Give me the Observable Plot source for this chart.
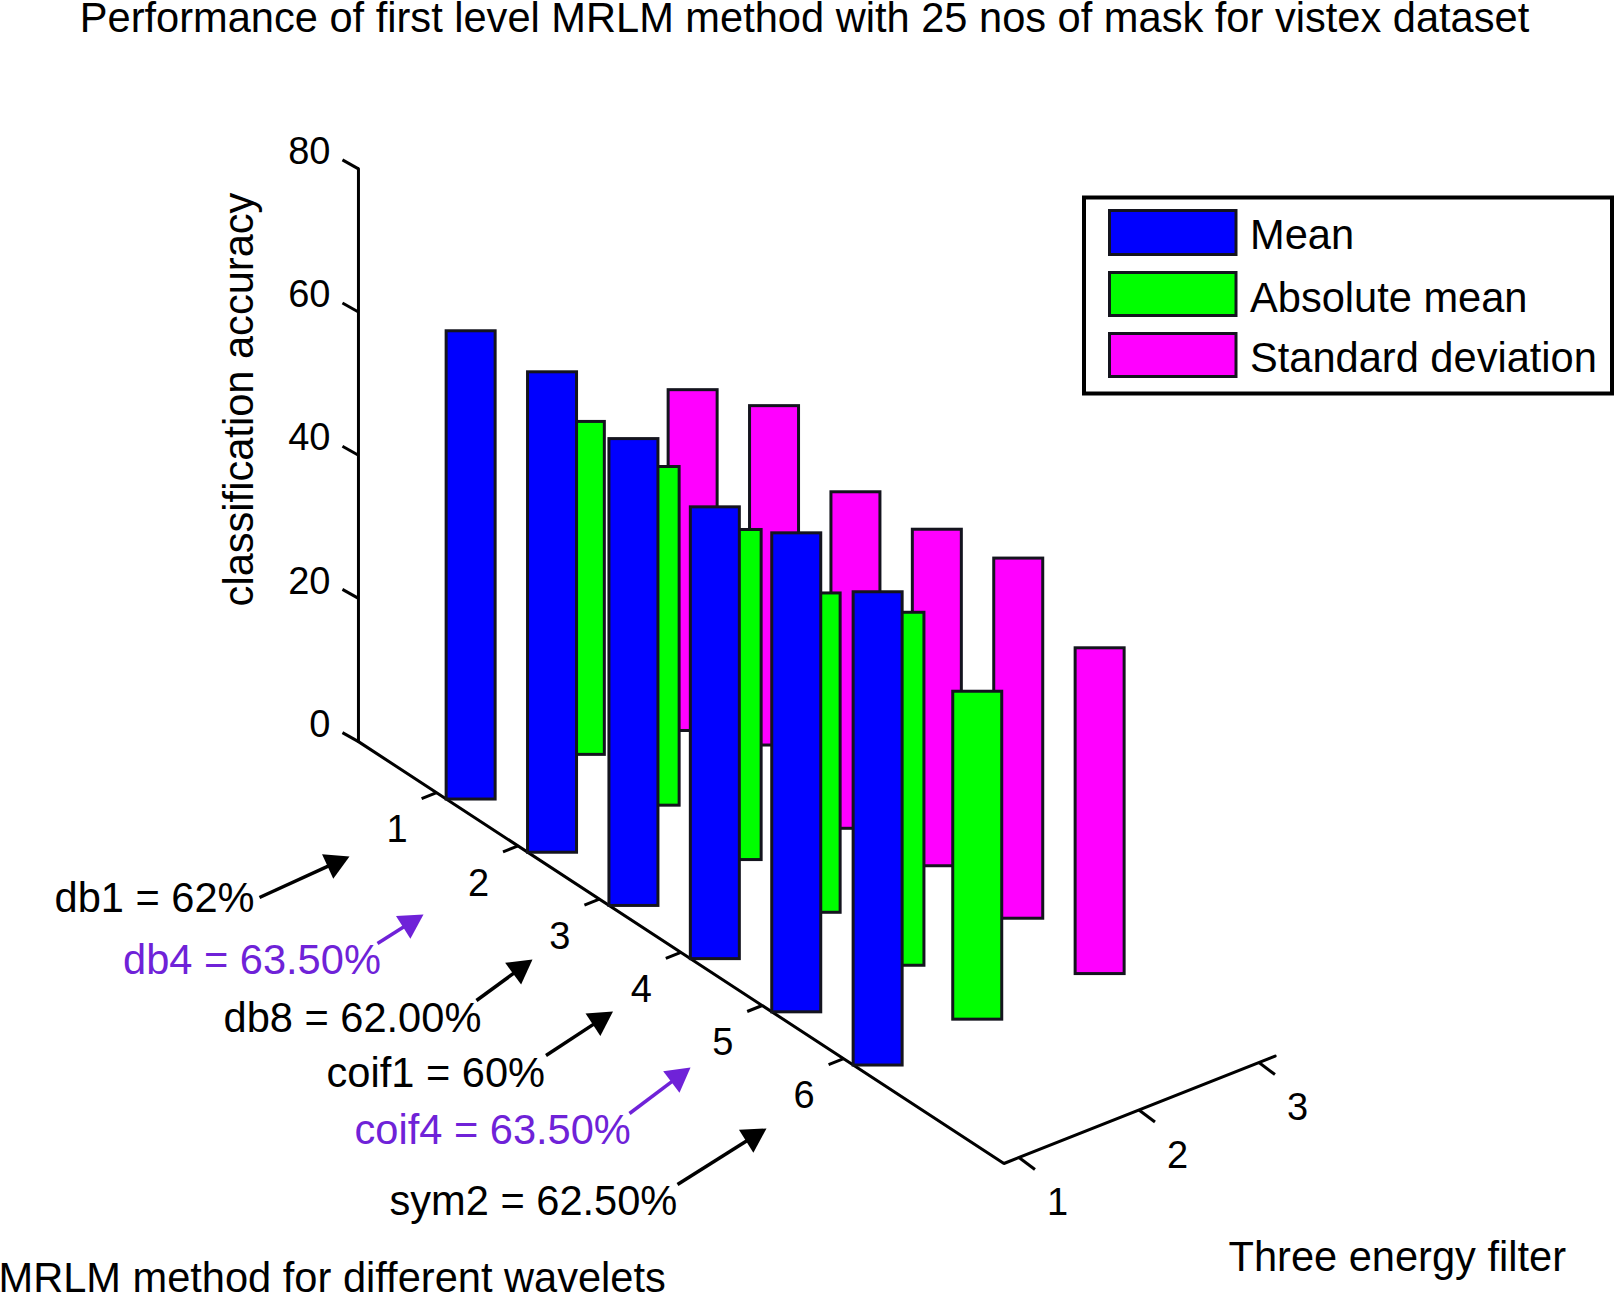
<!DOCTYPE html>
<html>
<head>
<meta charset="utf-8">
<script src="https://cdn.jsdelivr.net/npm/d3@7"></script>
<script src="https://cdn.jsdelivr.net/npm/@observablehq/plot@0.6"></script>
<style>
html,body{margin:0;padding:0;background:#fff;overflow:hidden}
svg{display:block}
g[aria-label="legend-labels"] text{word-spacing:6px}
</style>
</head>
<body>
<div id="chart"></div>
<script>
// ---- data (axis units) ----
const wavelets = [1, 2, 3, 4, 5, 6];
const filterTicks = [1, 2, 3];
const accuracyTicks = [0, 20, 40, 60, 80];

const meanHigh = [65.4, 67.1, 65.2, 63.1, 66.9, 66.1];
const meanLow = [0, 0, 0, 0, 0, 0];
const meanFilter = [1, 1, 1, 1, 1, 1];

const absHigh = [46.7, 48.2, 46.8, 45.5, 50.1, 46.7];
const absLow = [0.2, 0.9, 0.7, 0.9, 0.8, 0.9];
const absFilter = [1.91, 1.855, 1.86, 1.84, 1.86, 1.83];

const stdHigh = [44.9, 50.1, 45.5, 47.7, 51.1, 46];
const stdLow = [-2.7, 2.7, -1.5, 0.7, 0.8, 0.5];
const stdFilter = [2.85, 2.85, 2.85, 2.85, 2.85, 2.85];

const seriesNames = ["Mean", "Absolute mean", "Standard deviation"];
const seriesColors = ["#0000ff", "#00ff00", "#ff00ff"];

const titleText = "Performance of first level MRLM method with 25 nos of mask for vistex dataset";
const zTitle = "classification accuracy";
const xTitle = "MRLM method for different wavelets";
const yTitle = "Three energy filter";

const noteLabels = ["db1 = 62%", "db4 = 63.50%", "db8 = 62.00%", "coif1 = 60%", "coif4 = 63.50%", "sym2 = 62.50%"];
const noteColors = ["#000", "#6f22d8", "#000", "#000", "#6f22d8", "#000"];

// ---- layout ----
const W = 1614, H = 1293;
const px = (w, f) => 354.7 + 81.4 * w + 120 * (f - 0.875);
const py = (w, f, z) => 739 + 53.2 * w - 47.5 * (f - 0.875) - 7.16 * z;
const barShift = 0.24, barHalf = 24.5;
const wMin = 0.04, wMax = 7.97, fMin = 0.875, fMax = 3.135, zMax = 80;
const ink = "#000", barInk = "#14141e";
const font = "Liberation Sans, Arial, Helvetica, sans-serif";

const bars = (high, low, filter, color) => wavelets.map((w, i) => ({
  x1: px(w + barShift, filter[i]) - barHalf,
  x2: px(w + barShift, filter[i]) + barHalf,
  y1: py(w + barShift, filter[i], low[i]),
  y2: py(w + barShift, filter[i], high[i]),
  color
}));
const allBars = [
  ...bars(stdHigh, stdLow, stdFilter, seriesColors[2]),
  ...bars(absHigh, absLow, absFilter, seriesColors[1]),
  ...bars(meanHigh, meanLow, meanFilter, seriesColors[0])
];

// axes of the 3D box
const axisPaths = [
  [[px(wMin, fMin), py(wMin, fMin, zMax)], [px(wMin, fMin), py(wMin, fMin, 0)], [px(wMax, fMin), py(wMax, fMin, 0)], [px(wMax, fMax), py(wMax, fMax, 0)]]
].flatMap((p, id) => p.map(([x, y]) => ({x, y, id})));

const ticks = [
  ...accuracyTicks.map(z => { const x = px(wMin, fMin), y = py(wMin, fMin, z); return {x1: x, y1: y, x2: x - 16, y2: y - 9}; }),
  ...wavelets.map(w => { const x = px(w, fMin), y = py(w, fMin, 0); return {x1: x, y1: y, x2: x - 15, y2: y + 6}; }),
  ...filterTicks.map(f => { const x = px(wMax, f), y = py(wMax, f, 0); return {x1: x, y1: y, x2: x + 16, y2: y + 12}; })
];

const zTickLabels = accuracyTicks.map(z => ({x: px(wMin, fMin) - 28, y: py(wMin, fMin, z) - 17, text: String(z)}));
const floorTickLabels = [
  ...wavelets.map(w => ({x: px(w, fMin) - 39.5, y: py(w, fMin, 0) + 37.5, text: String(w)})),
  ...filterTicks.map(f => ({x: px(wMax, f) + 38.5, y: py(wMax, f, 0) + 45.5, text: String(f)}))
];

// annotations: placement of text and arrows on the page
const noteLeft = [54, 122.5, 223, 326, 354, 389];
const noteBase = [911, 973, 1031, 1086, 1143, 1214];
const arrowStart = [[259, 897], [377, 943], [476, 1000], [545.5, 1055], [629, 1113], [677, 1184]];
const arrowTip = [[349, 856], [423, 914], [532, 959], [612.5, 1011], [690, 1067], [766, 1128]];
const notes = noteLabels.map((text, i) => ({text, x: noteLeft[i], y: noteBase[i], color: noteColors[i]}));
const shafts = noteLabels.map((_, i) => {
  const [a, b] = arrowStart[i], [c, d] = arrowTip[i];
  const len = Math.hypot(c - a, d - b), ux = (c - a) / len, uy = (d - b) / len;
  return {x1: a, y1: b, x2: c - ux * 18, y2: d - uy * 18, color: noteColors[i]};
});
const heads = noteLabels.flatMap((_, i) => {
  const [a, b] = arrowStart[i], [c, d] = arrowTip[i];
  const len = Math.hypot(c - a, d - b), ux = (c - a) / len, uy = (d - b) / len;
  const hl = 24, hw = 13.5;
  return [
    {id: i, color: noteColors[i], x: c, y: d},
    {id: i, color: noteColors[i], x: c - ux * hl - uy * hw, y: d - uy * hl + ux * hw},
    {id: i, color: noteColors[i], x: c - ux * hl + uy * hw, y: d - uy * hl - ux * hw}
  ];
});

// legend box
const legendBox = [{x1: 1084, y1: 197.5, x2: 1612, y2: 393.5}];
const legendTop = [209, 271, 332], legendBottom = [256, 317, 378], legendBase = [248.5, 311, 371];
const legendSwatches = seriesNames.map((n, i) => ({x1: 1109.5, x2: 1236, y1: legendTop[i] + 1.5, y2: legendBottom[i] - 1.5, color: seriesColors[i]}));
const legendTexts = seriesNames.map((n, i) => ({text: n, x: 1249.5, y: legendBase[i]}));

const bigText = {fontFamily: font, fontSize: 41.6, fill: ink, lineAnchor: "bottom"};
const tickText = {x: "x", y: "y", text: "text", fontFamily: font, fontSize: 38, fill: ink, lineAnchor: "middle"};

const chart = Plot.plot({
  width: W, height: H, margin: 0,
  x: {domain: [0, W], range: [0, W], axis: null},
  y: {domain: [0, H], range: [0, H], axis: null},
  style: {background: "#fff", fontFamily: font},
  marks: [
    Plot.line(axisPaths, {x: "x", y: "y", z: "id", stroke: ink, strokeWidth: 3, strokeLinejoin: "miter"}),
    Plot.link(ticks, {x1: "x1", y1: "y1", x2: "x2", y2: "y2", stroke: ink, strokeWidth: 3}),
    Plot.rect(allBars, {x1: "x1", x2: "x2", y1: "y1", y2: "y2", fill: d => d.color, stroke: barInk, strokeWidth: 3}),
    Plot.text(zTickLabels, {...tickText, textAnchor: "end"}),
    Plot.text(floorTickLabels, {...tickText, textAnchor: "middle"}),
    Plot.link(shafts, {x1: "x1", y1: "y1", x2: "x2", y2: "y2", stroke: "color", strokeWidth: 3.5}),
    Plot.line(heads, {x: "x", y: "y", z: "id", fill: "color", stroke: "none", curve: "linear-closed"}),
    Plot.text(notes, {x: "x", y: "y", text: "text", fill: "color", textAnchor: "start", fontFamily: font, fontSize: 41.6, lineAnchor: "bottom"}),
    Plot.text([titleText], {x: () => 804, y: () => 31, text: d => d, textAnchor: "middle", ...bigText}),
    Plot.text([zTitle], {x: () => 252, y: () => 399, text: d => d, rotate: -90, textAnchor: "middle", ...bigText}),
    Plot.text([xTitle], {x: () => -2, y: () => 1291, text: d => d, textAnchor: "start", ...bigText}),
    Plot.text([yTitle], {x: () => 1228, y: () => 1270, text: d => d, textAnchor: "start", ...bigText}),
    Plot.rect(legendBox, {x1: "x1", x2: "x2", y1: "y1", y2: "y2", fill: "none", stroke: ink, strokeWidth: 4}),
    Plot.rect(legendSwatches, {x1: "x1", x2: "x2", y1: "y1", y2: "y2", fill: "color", stroke: barInk, strokeWidth: 3}),
    Plot.text(legendTexts, {x: "x", y: "y", text: "text", textAnchor: "start", ...bigText, ariaLabel: "legend-labels"})
  ]
});
document.getElementById("chart").append(chart);
</script>
</body>
</html>
